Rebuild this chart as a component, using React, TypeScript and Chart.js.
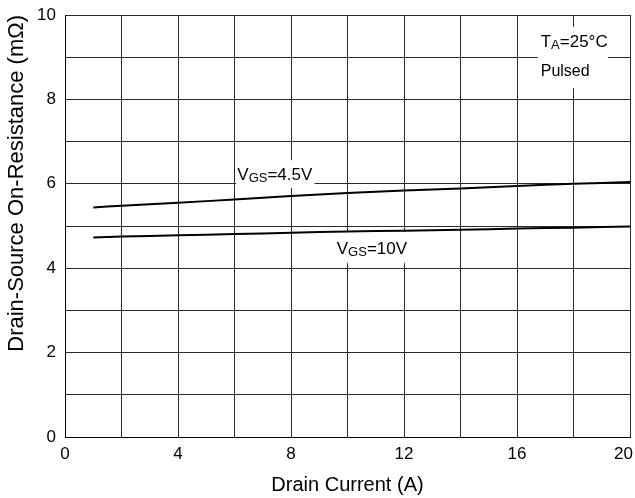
import { useEffect, useRef } from "react";
import { Chart, registerables } from "chart.js";

Chart.register(...registerables);

// Drain current (A)
const currents = [1, 2, 4, 6, 8, 10, 12, 14, 16, 18, 20];
// On-resistance (mΩ) at VGS = 4.5 V
const rds45 = [5.44, 5.48, 5.55, 5.63, 5.71, 5.78, 5.84, 5.89, 5.95, 6.0, 6.04];
// On-resistance (mΩ) at VGS = 10 V
const rds10 = [4.73, 4.75, 4.78, 4.81, 4.84, 4.87, 4.89, 4.91, 4.94, 4.96, 4.99];

const xTickLabels = [0, 4, 8, 12, 16, 20];
const yTickLabels = [0, 2, 4, 6, 8, 10];

const FONT = '"Liberation Sans", Arial, Helvetica, sans-serif';

type Part = { t: string; sub?: boolean; size?: number };
type Line = { x: number; y: number; parts: Part[] };
type Note = { box: [number, number, number, number]; lines: Line[] };

const notes: Note[] = [
  {
    box: [6.06, 8.83, 6.56, 5.9],
    lines: [{ x: 6.1, y: 6.09, parts: [{ t: "V" }, { t: "GS", sub: true }, { t: "=4.5V" }] }],
  },
  {
    box: [9.47, 12.6, 4.86, 4.12],
    lines: [{ x: 9.62, y: 4.34, parts: [{ t: "V" }, { t: "GS", sub: true }, { t: "=10V" }] }],
  },
  {
    box: [16.74, 19.22, 9.72, 8.27],
    lines: [
      { x: 16.84, y: 9.24, parts: [{ t: "T" }, { t: "A", sub: true }, { t: "=25°C" }] },
      { x: 16.84, y: 8.56, parts: [{ t: "Pulsed", size: 16 }] },
    ],
  },
];

const notesPlugin = {
  id: "notes",
  beforeDatasetsDraw(chart: any) {
    const { ctx, scales } = chart;
    const xs = scales.x;
    const ys = scales.y;
    ctx.save();
    for (const n of notes) {
      const x0 = xs.getPixelForValue(n.box[0]);
      const x1 = xs.getPixelForValue(n.box[1]);
      const y0 = ys.getPixelForValue(n.box[2]);
      const y1 = ys.getPixelForValue(n.box[3]);
      ctx.fillStyle = "#ffffff";
      ctx.fillRect(x0, y0, x1 - x0, y1 - y0);
      ctx.fillStyle = "#000000";
      ctx.textBaseline = "alphabetic";
      ctx.textAlign = "left";
      for (const l of n.lines) {
        let px = xs.getPixelForValue(l.x);
        const py = ys.getPixelForValue(l.y);
        for (const p of l.parts) {
          const size = p.size ?? (p.sub ? 13 : 17);
          ctx.font = `${size}px ${FONT}`;
          ctx.fillText(p.t, px, p.sub ? py + 2 : py);
          px += ctx.measureText(p.t).width;
        }
      }
    }
    ctx.restore();
  },
  beforeDraw(chart: any) {
    const xs = chart.scales.x;
    const items = xs.getLabelItems(chart.chartArea);
    if (items && items.length) {
      const last = items[items.length - 1];
      last.options.textAlign = "right";
      last.options.translation = [chart.chartArea.right + 3, last.options.translation[1]];
    }
  },
};

export default function App() {
  const ref = useRef<HTMLCanvasElement | null>(null);

  useEffect(() => {
    if (!ref.current) return;
    const chart = new Chart(ref.current, {
      type: "line",
      data: {
        datasets: [
          {
            label: "VGS=4.5V",
            data: currents.map((c, i) => ({ x: c, y: rds45[i] })),
            borderColor: "#000000",
            borderWidth: 2,
            pointRadius: 0,
            tension: 0.3,
            fill: false,
          },
          {
            label: "VGS=10V",
            data: currents.map((c, i) => ({ x: c, y: rds10[i] })),
            borderColor: "#000000",
            borderWidth: 2,
            pointRadius: 0,
            tension: 0.3,
            fill: false,
          },
        ],
      },
      options: {
        animation: false,
        responsive: true,
        maintainAspectRatio: false,
        layout: { padding: { top: 15, right: 5, left: 0, bottom: 0 } },
        plugins: { legend: { display: false }, tooltip: { enabled: false } },
        scales: {
          x: {
            type: "linear",
            min: 0,
            max: 20,
            afterFit: (s: any) => {
              s.height = 61;
              s.paddingLeft = 0;
              s.paddingRight = 0;
            },
            ticks: {
              stepSize: 2,
              autoSkip: false,
              maxRotation: 0,
              padding: 7,
              color: "#000000",
              font: { size: 17, family: FONT },
              callback: (v: any) => (xTickLabels.includes(Number(v)) ? String(v) : ""),
            },
            grid: { color: "#2a2a2a", lineWidth: 1, drawTicks: false },
            border: { color: "#000000", width: 1 },
            title: {
              display: true,
              text: "Drain Current (A)",
              color: "#000000",
              font: { size: 20, family: FONT },
              padding: { top: 0, bottom: 1 },
            },
          },
          y: {
            type: "linear",
            min: 0,
            max: 10,
            afterFit: (s: any) => {
              s.width = 65;
              s.paddingTop = 0;
              s.paddingBottom = 0;
            },
            ticks: {
              stepSize: 1,
              autoSkip: false,
              padding: 9,
              color: "#000000",
              font: { size: 17, family: FONT },
              callback: (v: any) => (yTickLabels.includes(Number(v)) ? String(v) : ""),
            },
            grid: { color: "#2a2a2a", lineWidth: 1, drawTicks: false },
            border: { color: "#000000", width: 1 },
            title: {
              display: true,
              text: "Drain-Source On-Resistance (mΩ)",
              align: "end",
              color: "#000000",
              font: { size: 22, family: FONT },
              padding: { top: 4, bottom: 0 },
            },
          },
        },
      },
      plugins: [notesPlugin],
    });
    return () => chart.destroy();
  }, []);

  return (
    <div style={{ position: "fixed", left: 0, top: 0, width: 635, height: 498, background: "#ffffff" }}>
      <canvas ref={ref} />
    </div>
  );
}
